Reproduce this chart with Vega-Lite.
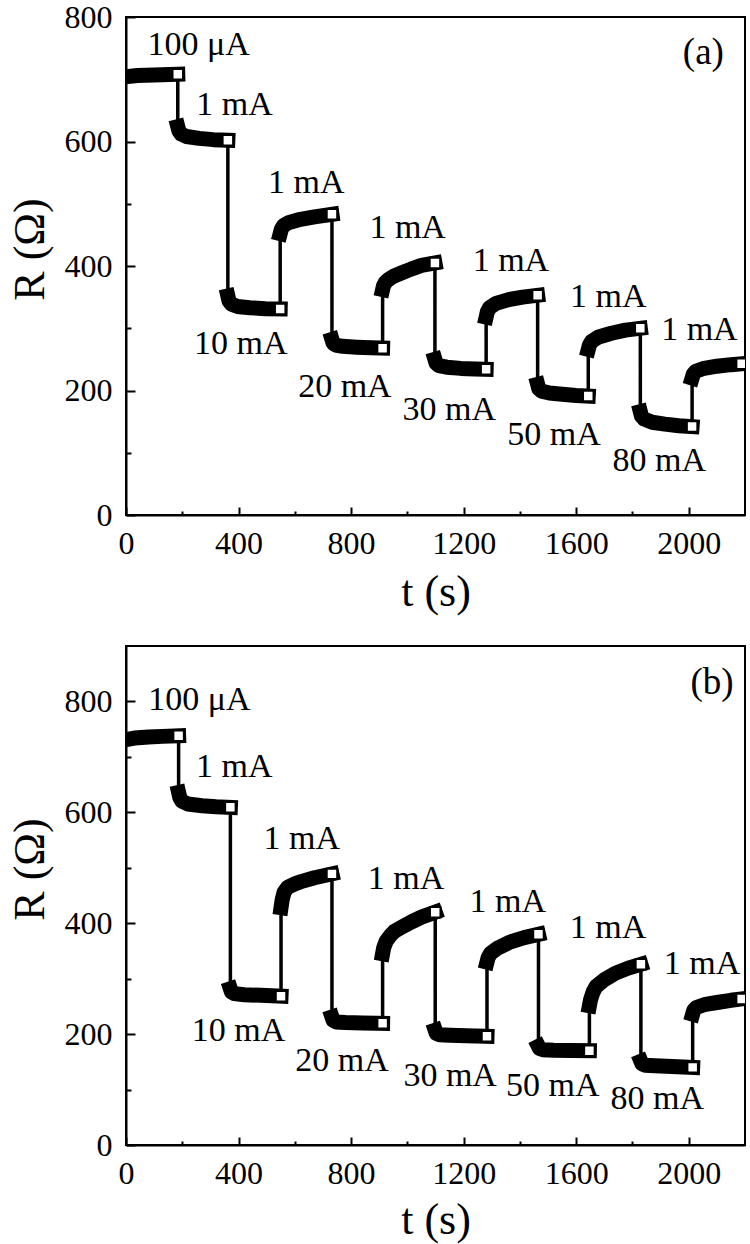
{
  "$schema": "https://vega.github.io/schema/vega-lite/v6.json",
  "background": "white",
  "padding": {"left": 7, "top": 0, "right": 5, "bottom": 2},
  "bounds": "flush",
  "spacing": 131,
  "config": {
    "font": "Liberation Serif",
    "view": {"stroke": "black", "strokeWidth": 2},
    "axis": {
      "grid": false,
      "domainColor": "black",
      "domainWidth": 2,
      "tickColor": "black",
      "tickWidth": 2,
      "labelColor": "black",
      "titleColor": "black",
      "labelFont": "Liberation Serif",
      "titleFont": "Liberation Serif",
      "labelFontSize": 32,
      "titleFontSize": 44,
      "titleFontWeight": "normal",
      "labelOverlap": false,
      "labelFlush": false,
      "format": "d"
    }
  },
  "datasets": {
    "a": [
      {"seg": 1, "t": 0, "R": 704, "end": false},
      {"seg": 1, "t": 40, "R": 706, "end": false},
      {"seg": 1, "t": 100, "R": 707, "end": false},
      {"seg": 1, "t": 184, "R": 708, "end": true},
      {"seg": 2, "t": 184, "R": 624, "end": false},
      {"seg": 2, "t": 188, "R": 617, "end": false},
      {"seg": 2, "t": 196, "R": 612, "end": false},
      {"seg": 2, "t": 215, "R": 608, "end": false},
      {"seg": 2, "t": 260, "R": 605, "end": false},
      {"seg": 2, "t": 310, "R": 603, "end": false},
      {"seg": 2, "t": 362, "R": 602, "end": true},
      {"seg": 3, "t": 362, "R": 352, "end": false},
      {"seg": 3, "t": 366, "R": 344, "end": false},
      {"seg": 3, "t": 374, "R": 339, "end": false},
      {"seg": 3, "t": 395, "R": 335, "end": false},
      {"seg": 3, "t": 440, "R": 333, "end": false},
      {"seg": 3, "t": 495, "R": 331.5, "end": false},
      {"seg": 3, "t": 548, "R": 331, "end": true},
      {"seg": 4, "t": 548, "R": 452, "end": false},
      {"seg": 4, "t": 552, "R": 459, "end": false},
      {"seg": 4, "t": 560, "R": 465, "end": false},
      {"seg": 4, "t": 580, "R": 470, "end": false},
      {"seg": 4, "t": 620, "R": 475, "end": false},
      {"seg": 4, "t": 670, "R": 479, "end": false},
      {"seg": 4, "t": 732, "R": 483, "end": true},
      {"seg": 5, "t": 732, "R": 282, "end": false},
      {"seg": 5, "t": 736, "R": 276, "end": false},
      {"seg": 5, "t": 745, "R": 273, "end": false},
      {"seg": 5, "t": 770, "R": 271, "end": false},
      {"seg": 5, "t": 820, "R": 269.5, "end": false},
      {"seg": 5, "t": 870, "R": 268.5, "end": false},
      {"seg": 5, "t": 912, "R": 268, "end": true},
      {"seg": 6, "t": 912, "R": 362, "end": false},
      {"seg": 6, "t": 915, "R": 368, "end": false},
      {"seg": 6, "t": 922, "R": 374, "end": false},
      {"seg": 6, "t": 935, "R": 379, "end": false},
      {"seg": 6, "t": 953, "R": 384, "end": false},
      {"seg": 6, "t": 985, "R": 390, "end": false},
      {"seg": 6, "t": 1013, "R": 395, "end": false},
      {"seg": 6, "t": 1050, "R": 401, "end": false},
      {"seg": 6, "t": 1098, "R": 405, "end": true},
      {"seg": 7, "t": 1098, "R": 250, "end": false},
      {"seg": 7, "t": 1102, "R": 244, "end": false},
      {"seg": 7, "t": 1112, "R": 240, "end": false},
      {"seg": 7, "t": 1140, "R": 237.5, "end": false},
      {"seg": 7, "t": 1190, "R": 235.5, "end": false},
      {"seg": 7, "t": 1240, "R": 234.5, "end": false},
      {"seg": 7, "t": 1280, "R": 234, "end": true},
      {"seg": 8, "t": 1280, "R": 318, "end": false},
      {"seg": 8, "t": 1284, "R": 326, "end": false},
      {"seg": 8, "t": 1292, "R": 333, "end": false},
      {"seg": 8, "t": 1315, "R": 340, "end": false},
      {"seg": 8, "t": 1360, "R": 346, "end": false},
      {"seg": 8, "t": 1410, "R": 350, "end": false},
      {"seg": 8, "t": 1463, "R": 353, "end": true},
      {"seg": 9, "t": 1463, "R": 210, "end": false},
      {"seg": 9, "t": 1467, "R": 203, "end": false},
      {"seg": 9, "t": 1477, "R": 199, "end": false},
      {"seg": 9, "t": 1505, "R": 196, "end": false},
      {"seg": 9, "t": 1550, "R": 194, "end": false},
      {"seg": 9, "t": 1600, "R": 192, "end": false},
      {"seg": 9, "t": 1643, "R": 191, "end": true},
      {"seg": 10, "t": 1643, "R": 266, "end": false},
      {"seg": 10, "t": 1647, "R": 273, "end": false},
      {"seg": 10, "t": 1655, "R": 279, "end": false},
      {"seg": 10, "t": 1680, "R": 286, "end": false},
      {"seg": 10, "t": 1725, "R": 292, "end": false},
      {"seg": 10, "t": 1775, "R": 297, "end": false},
      {"seg": 10, "t": 1828, "R": 300, "end": true},
      {"seg": 11, "t": 1828, "R": 166, "end": false},
      {"seg": 11, "t": 1832, "R": 159, "end": false},
      {"seg": 11, "t": 1842, "R": 154, "end": false},
      {"seg": 11, "t": 1870, "R": 149, "end": false},
      {"seg": 11, "t": 1915, "R": 146, "end": false},
      {"seg": 11, "t": 1965, "R": 143.5, "end": false},
      {"seg": 11, "t": 2012, "R": 142, "end": true},
      {"seg": 12, "t": 2012, "R": 220, "end": false},
      {"seg": 12, "t": 2016, "R": 226, "end": false},
      {"seg": 12, "t": 2025, "R": 231, "end": false},
      {"seg": 12, "t": 2050, "R": 235, "end": false},
      {"seg": 12, "t": 2100, "R": 239, "end": false},
      {"seg": 12, "t": 2150, "R": 241.5, "end": false},
      {"seg": 12, "t": 2188, "R": 243, "end": true}
    ],
    "b": [
      {"seg": 1, "t": 0, "R": 731, "end": false},
      {"seg": 1, "t": 30, "R": 734, "end": false},
      {"seg": 1, "t": 80, "R": 736, "end": false},
      {"seg": 1, "t": 130, "R": 737, "end": false},
      {"seg": 1, "t": 187, "R": 738, "end": true},
      {"seg": 2, "t": 187, "R": 636, "end": false},
      {"seg": 2, "t": 191, "R": 627, "end": false},
      {"seg": 2, "t": 199, "R": 620, "end": false},
      {"seg": 2, "t": 220, "R": 615, "end": false},
      {"seg": 2, "t": 270, "R": 612, "end": false},
      {"seg": 2, "t": 320, "R": 610, "end": false},
      {"seg": 2, "t": 371, "R": 609, "end": true},
      {"seg": 3, "t": 371, "R": 282, "end": false},
      {"seg": 3, "t": 375, "R": 276, "end": false},
      {"seg": 3, "t": 385, "R": 273, "end": false},
      {"seg": 3, "t": 420, "R": 271, "end": false},
      {"seg": 3, "t": 480, "R": 270, "end": false},
      {"seg": 3, "t": 551, "R": 268.5, "end": true},
      {"seg": 4, "t": 551, "R": 428, "end": false},
      {"seg": 4, "t": 555, "R": 442, "end": false},
      {"seg": 4, "t": 562, "R": 456, "end": false},
      {"seg": 4, "t": 575, "R": 465, "end": false},
      {"seg": 4, "t": 600, "R": 471, "end": false},
      {"seg": 4, "t": 622, "R": 475, "end": false},
      {"seg": 4, "t": 670, "R": 482, "end": false},
      {"seg": 4, "t": 732, "R": 489, "end": true},
      {"seg": 5, "t": 732, "R": 231, "end": false},
      {"seg": 5, "t": 736, "R": 225, "end": false},
      {"seg": 5, "t": 746, "R": 222, "end": false},
      {"seg": 5, "t": 780, "R": 221, "end": false},
      {"seg": 5, "t": 840, "R": 220, "end": false},
      {"seg": 5, "t": 912, "R": 219.5, "end": true},
      {"seg": 6, "t": 912, "R": 345, "end": false},
      {"seg": 6, "t": 916, "R": 356, "end": false},
      {"seg": 6, "t": 925, "R": 368, "end": false},
      {"seg": 6, "t": 940, "R": 378, "end": false},
      {"seg": 6, "t": 953, "R": 385, "end": false},
      {"seg": 6, "t": 980, "R": 393, "end": false},
      {"seg": 6, "t": 1013, "R": 402, "end": false},
      {"seg": 6, "t": 1050, "R": 411, "end": false},
      {"seg": 6, "t": 1099, "R": 420, "end": true},
      {"seg": 7, "t": 1099, "R": 207, "end": false},
      {"seg": 7, "t": 1103, "R": 201, "end": false},
      {"seg": 7, "t": 1114, "R": 199, "end": false},
      {"seg": 7, "t": 1150, "R": 198, "end": false},
      {"seg": 7, "t": 1210, "R": 197, "end": false},
      {"seg": 7, "t": 1283, "R": 196, "end": true},
      {"seg": 8, "t": 1283, "R": 330, "end": false},
      {"seg": 8, "t": 1287, "R": 338, "end": false},
      {"seg": 8, "t": 1296, "R": 346, "end": false},
      {"seg": 8, "t": 1320, "R": 355, "end": false},
      {"seg": 8, "t": 1365, "R": 366, "end": false},
      {"seg": 8, "t": 1415, "R": 374, "end": false},
      {"seg": 8, "t": 1466, "R": 380, "end": true},
      {"seg": 9, "t": 1466, "R": 178, "end": false},
      {"seg": 9, "t": 1470, "R": 174, "end": false},
      {"seg": 9, "t": 1480, "R": 172, "end": false},
      {"seg": 9, "t": 1520, "R": 171, "end": false},
      {"seg": 9, "t": 1580, "R": 170.5, "end": false},
      {"seg": 9, "t": 1647, "R": 170, "end": true},
      {"seg": 10, "t": 1647, "R": 251, "end": false},
      {"seg": 10, "t": 1651, "R": 262, "end": false},
      {"seg": 10, "t": 1660, "R": 276, "end": false},
      {"seg": 10, "t": 1671, "R": 286, "end": false},
      {"seg": 10, "t": 1700, "R": 298, "end": false},
      {"seg": 10, "t": 1740, "R": 310, "end": false},
      {"seg": 10, "t": 1785, "R": 319, "end": false},
      {"seg": 10, "t": 1830, "R": 326, "end": true},
      {"seg": 11, "t": 1830, "R": 151, "end": false},
      {"seg": 11, "t": 1834, "R": 146, "end": false},
      {"seg": 11, "t": 1845, "R": 144, "end": false},
      {"seg": 11, "t": 1880, "R": 143, "end": false},
      {"seg": 11, "t": 1940, "R": 141.5, "end": false},
      {"seg": 11, "t": 2014, "R": 140, "end": true},
      {"seg": 12, "t": 2014, "R": 236, "end": false},
      {"seg": 12, "t": 2018, "R": 243, "end": false},
      {"seg": 12, "t": 2027, "R": 248, "end": false},
      {"seg": 12, "t": 2055, "R": 253, "end": false},
      {"seg": 12, "t": 2100, "R": 257, "end": false},
      {"seg": 12, "t": 2150, "R": 261, "end": false},
      {"seg": 12, "t": 2188, "R": 263.5, "end": true}
    ],
    "la": [
      {"label": "100 μA", "t": 258, "R": 739},
      {"label": "1 mA", "t": 386, "R": 643},
      {"label": "10 mA", "t": 408, "R": 258},
      {"label": "1 mA", "t": 641, "R": 518},
      {"label": "20 mA", "t": 778, "R": 190},
      {"label": "1 mA", "t": 1001, "R": 445},
      {"label": "30 mA", "t": 1149, "R": 153},
      {"label": "1 mA", "t": 1368, "R": 392},
      {"label": "50 mA", "t": 1521, "R": 113},
      {"label": "1 mA", "t": 1714, "R": 334},
      {"label": "80 mA", "t": 1895, "R": 70},
      {"label": "1 mA", "t": 2038, "R": 281}
    ],
    "lb": [
      {"label": "100 μA", "t": 261, "R": 784},
      {"label": "1 mA", "t": 385, "R": 663},
      {"label": "10 mA", "t": 400, "R": 188},
      {"label": "1 mA", "t": 625, "R": 534},
      {"label": "20 mA", "t": 768, "R": 134},
      {"label": "1 mA", "t": 995, "R": 462},
      {"label": "30 mA", "t": 1152, "R": 107},
      {"label": "1 mA", "t": 1357, "R": 420},
      {"label": "50 mA", "t": 1517, "R": 89},
      {"label": "1 mA", "t": 1713, "R": 373},
      {"label": "80 mA", "t": 1888, "R": 65},
      {"label": "1 mA", "t": 2047, "R": 309}
    ],
    "pa": [{"label": "(a)", "t": 2052, "R": 725}],
    "pb": [{"label": "(b)", "t": 2083, "R": 814}]
  },
  "vconcat": [
    {
      "width": 619,
      "height": 498,
      "layer": [
        {
          "data": {"name": "a"},
          "mark": {"type": "line", "color": "black", "strokeWidth": 3.5},
          "encoding": {
            "x": {"field": "t", "type": "quantitative", "scale": {"domain": [0, 2200], "nice": false},
                  "axis": {"orient": "bottom", "title": "t (s)", "values": [0, 400, 800, 1200, 1600, 2000], "format": "d", "tickSize": -8, "labelPadding": 21, "titlePadding": 11}},
            "y": {"field": "R", "type": "quantitative", "scale": {"domain": [0, 800], "nice": false},
                  "axis": {"orient": "left", "title": "R (Ω)", "values": [0, 200, 400, 600, 800], "format": "d", "tickSize": -9, "labelPadding": 23, "titlePadding": 12, "titleY": 232}},
            "order": {"value": null}
          }
        },
        {
          "data": {"name": "a"},
          "mark": {"type": "line", "color": "black", "strokeWidth": 15, "strokeCap": "square", "strokeJoin": "round", "clip": true},
          "encoding": {
            "x": {"field": "t", "type": "quantitative",
                  "axis": {"orient": "bottom", "title": null, "values": [200, 600, 1000, 1400, 1800], "tickSize": -4, "labels": false, "domain": false}},
            "y": {"field": "R", "type": "quantitative",
                  "axis": {"orient": "left", "title": null, "values": [100, 300, 500, 700], "tickSize": -5, "labels": false, "domain": false}},
            "detail": {"field": "seg"},
            "order": {"value": null}
          }
        },
        {
          "data": {"name": "a"},
          "transform": [{"filter": "datum.end"}],
          "mark": {"type": "point", "shape": "square", "filled": true, "fill": "white", "stroke": "black", "strokeWidth": 2, "size": 110, "opacity": 1, "clip": true},
          "encoding": {
            "x": {"field": "t", "type": "quantitative", "axis": null},
            "y": {"field": "R", "type": "quantitative", "axis": null}
          }
        },
        {
          "data": {"name": "la"},
          "mark": {"type": "text", "font": "Liberation Serif", "fontSize": 34, "align": "center", "baseline": "alphabetic", "color": "black"},
          "encoding": {
            "x": {"field": "t", "type": "quantitative", "axis": null},
            "y": {"field": "R", "type": "quantitative", "axis": null},
            "text": {"field": "label"}
          }
        },
        {
          "data": {"name": "pa"},
          "mark": {"type": "text", "font": "Liberation Serif", "fontSize": 37, "align": "center", "baseline": "alphabetic", "color": "black"},
          "encoding": {
            "x": {"field": "t", "type": "quantitative", "axis": null},
            "y": {"field": "R", "type": "quantitative", "axis": null},
            "text": {"field": "label"}
          }
        }
      ],
      "resolve": {"axis": {"x": "independent", "y": "independent"}}
    },
    {
      "width": 619,
      "height": 499,
      "layer": [
        {
          "data": {"name": "b"},
          "mark": {"type": "line", "color": "black", "strokeWidth": 3.5},
          "encoding": {
            "x": {"field": "t", "type": "quantitative", "scale": {"domain": [0, 2200], "nice": false},
                  "axis": {"orient": "bottom", "title": "t (s)", "values": [0, 400, 800, 1200, 1600, 2000], "format": "d", "tickSize": -8, "labelPadding": 21, "titlePadding": 9}},
            "y": {"field": "R", "type": "quantitative", "scale": {"domain": [0, 900], "nice": false},
                  "axis": {"orient": "left", "title": "R (Ω)", "values": [0, 200, 400, 600, 800], "format": "d", "tickSize": -9, "labelPadding": 23, "titlePadding": 12, "titleY": 223}},
            "order": {"value": null}
          }
        },
        {
          "data": {"name": "b"},
          "mark": {"type": "line", "color": "black", "strokeWidth": 15, "strokeCap": "square", "strokeJoin": "round", "clip": true},
          "encoding": {
            "x": {"field": "t", "type": "quantitative",
                  "axis": {"orient": "bottom", "title": null, "values": [200, 600, 1000, 1400, 1800], "tickSize": -4, "labels": false, "domain": false}},
            "y": {"field": "R", "type": "quantitative",
                  "axis": {"orient": "left", "title": null, "values": [100, 300, 500, 700], "tickSize": -5, "labels": false, "domain": false}},
            "detail": {"field": "seg"},
            "order": {"value": null}
          }
        },
        {
          "data": {"name": "b"},
          "transform": [{"filter": "datum.end"}],
          "mark": {"type": "point", "shape": "square", "filled": true, "fill": "white", "stroke": "black", "strokeWidth": 2, "size": 110, "opacity": 1, "clip": true},
          "encoding": {
            "x": {"field": "t", "type": "quantitative", "axis": null},
            "y": {"field": "R", "type": "quantitative", "axis": null}
          }
        },
        {
          "data": {"name": "lb"},
          "mark": {"type": "text", "font": "Liberation Serif", "fontSize": 34, "align": "center", "baseline": "alphabetic", "color": "black"},
          "encoding": {
            "x": {"field": "t", "type": "quantitative", "axis": null},
            "y": {"field": "R", "type": "quantitative", "axis": null},
            "text": {"field": "label"}
          }
        },
        {
          "data": {"name": "pb"},
          "mark": {"type": "text", "font": "Liberation Serif", "fontSize": 37, "align": "center", "baseline": "alphabetic", "color": "black"},
          "encoding": {
            "x": {"field": "t", "type": "quantitative", "axis": null},
            "y": {"field": "R", "type": "quantitative", "axis": null},
            "text": {"field": "label"}
          }
        }
      ],
      "resolve": {"axis": {"x": "independent", "y": "independent"}}
    }
  ]
}
